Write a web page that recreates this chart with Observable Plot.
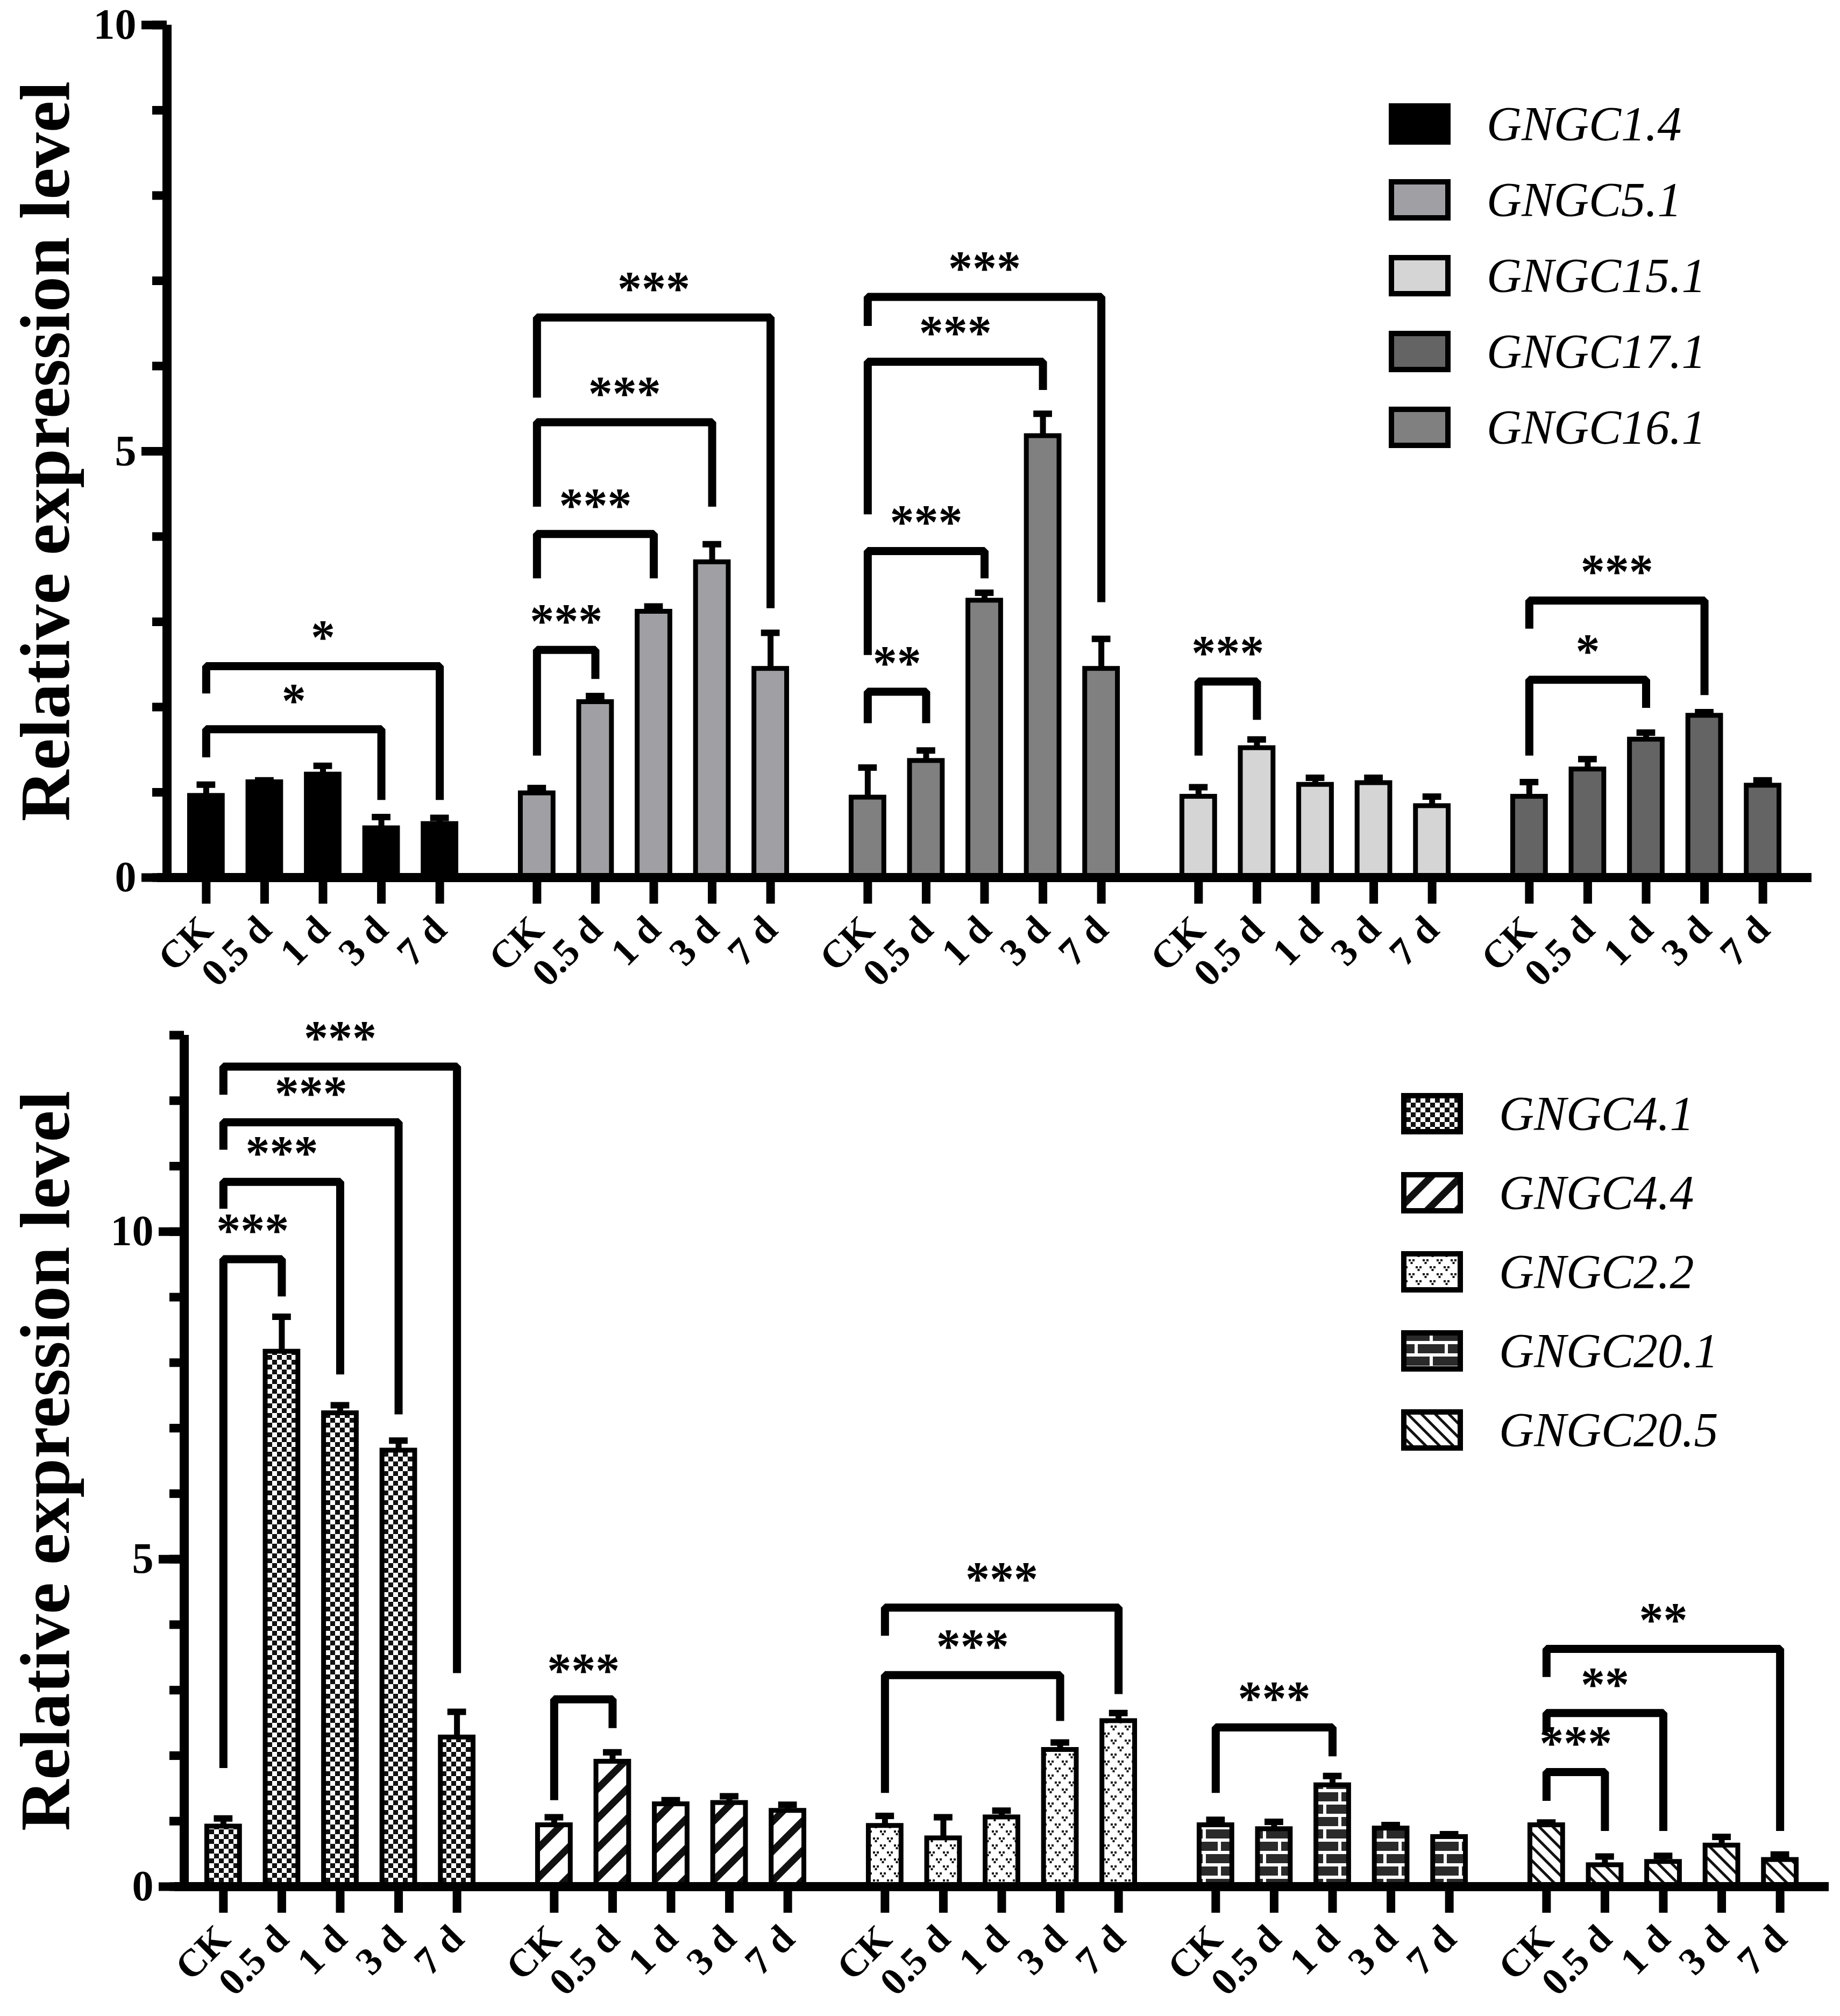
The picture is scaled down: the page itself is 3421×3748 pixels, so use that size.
<!DOCTYPE html>
<html>
<head>
<meta charset="utf-8">
<script src="https://cdn.jsdelivr.net/npm/d3@7"></script>
<script src="https://cdn.jsdelivr.net/npm/@observablehq/plot@0.6"></script>
<style>
  html, body { margin: 0; padding: 0; background: white; overflow: hidden; }
  #page { position: relative; width: 3421px; height: 3748px; }
  .legend { position: absolute; font-family: "Liberation Serif", serif; font-style: italic; font-weight: normal; font-size: 90px; }
  .legend .row { display: flex; align-items: center; }
  .legend svg { margin-right: 67px; }
</style>
</head>
<body>
<svg width="0" height="0" style="position:absolute">
  <defs>
    <pattern id="checker" width="18" height="18" patternUnits="userSpaceOnUse">
      <rect width="18" height="18" fill="white"/>
      <rect width="9" height="9" fill="#111"/>
      <rect x="9" y="9" width="9" height="9" fill="#111"/>
    </pattern>
    <pattern id="stripes" width="39" height="39" patternUnits="userSpaceOnUse" patternTransform="rotate(45)">
      <rect width="39" height="39" fill="white"/>
      <rect width="13" height="39" fill="#111"/>
    </pattern>
    <pattern id="dots" width="26" height="26" patternUnits="userSpaceOnUse">
      <rect width="26" height="26" fill="white"/>
      <rect x="1" y="2" width="4" height="4" fill="#111"/>
      <rect x="8" y="2" width="4" height="4" fill="#111"/>
      <rect x="4.5" y="7" width="4" height="4" fill="#111"/>
      <rect x="14" y="15" width="4" height="4" fill="#111"/>
      <rect x="21" y="15" width="4" height="4" fill="#111"/>
      <rect x="17.5" y="20" width="4" height="4" fill="#111"/>
    </pattern>
    <pattern id="bricks" width="56" height="46" patternUnits="userSpaceOnUse">
      <rect width="56" height="46" fill="white"/>
      <rect x="3" y="3" width="50" height="17" fill="#2a2a2a"/>
      <rect x="-25" y="26" width="50" height="17" fill="#2a2a2a"/>
      <rect x="31" y="26" width="50" height="17" fill="#2a2a2a"/>
    </pattern>
    <pattern id="hatch" width="18" height="18" patternUnits="userSpaceOnUse" patternTransform="rotate(-45)">
      <rect width="18" height="18" fill="white"/>
      <rect width="5" height="18" fill="#111"/>
    </pattern>
  </defs>
</svg>
<div id="page"></div>
<script>
const times = ["CK", "0.5 d", "1 d", "3 d", "7 d"]

// upper panel
const topGenes = ["GNGC1.4", "GNGC5.1", "GNGC16.1", "GNGC15.1", "GNGC17.1"]
const topFills = ["#000000", "#a0a0a4", "#808080", "#d5d5d5", "#646464"]
const topLegend = ["GNGC1.4", "GNGC5.1", "GNGC15.1", "GNGC17.1", "GNGC16.1"]
const topMean = [
  [0.96, 1.12, 1.21, 0.58, 0.63],
  [0.99, 2.06, 3.12, 3.70, 2.45],
  [0.94, 1.37, 3.25, 5.18, 2.45],
  [0.95, 1.52, 1.09, 1.11, 0.84],
  [0.95, 1.27, 1.62, 1.90, 1.08]
]
const topErr = [
  [0.13, 0.02, 0.10, 0.13, 0.07],
  [0.06, 0.07, 0.06, 0.21, 0.42],
  [0.35, 0.12, 0.09, 0.26, 0.35],
  [0.11, 0.10, 0.08, 0.06, 0.11],
  [0.17, 0.12, 0.08, 0.04, 0.06]
]
// gene, compared with, bar height, left leg end, right leg end, label
const topBrackets = [
  ["GNGC1.4", "3 d", 1.74, 1.41, 0.91, "*"],
  ["GNGC1.4", "7 d", 2.48, 2.16, 0.91, "*"],
  ["GNGC5.1", "0.5 d", 2.67, 1.43, 2.33, "***"],
  ["GNGC5.1", "1 d", 4.03, 3.51, 3.51, "***"],
  ["GNGC5.1", "3 d", 5.34, 4.35, 4.35, "***"],
  ["GNGC5.1", "7 d", 6.57, 5.63, 3.16, "***"],
  ["GNGC16.1", "0.5 d", 2.18, 1.81, 1.81, "**"],
  ["GNGC16.1", "1 d", 3.83, 2.61, 3.51, "***"],
  ["GNGC16.1", "3 d", 6.05, 4.26, 5.72, "***"],
  ["GNGC16.1", "7 d", 6.81, 6.47, 3.23, "***"],
  ["GNGC15.1", "0.5 d", 2.30, 1.43, 1.85, "***"],
  ["GNGC17.1", "1 d", 2.32, 1.43, 1.99, "*"],
  ["GNGC17.1", "3 d", 3.25, 2.92, 2.14, "***"]
]

// lower panel
const botGenes = ["GNGC4.1", "GNGC4.4", "GNGC2.2", "GNGC20.1", "GNGC20.5"]
const botFills = ["url(#checker)", "url(#stripes)", "url(#dots)", "url(#bricks)", "url(#hatch)"]
const botMean = [
  [0.92, 8.17, 7.23, 6.66, 2.28],
  [0.94, 1.91, 1.26, 1.28, 1.16],
  [0.93, 0.74, 1.06, 2.09, 2.53],
  [0.94, 0.88, 1.55, 0.89, 0.76],
  [0.94, 0.33, 0.38, 0.63, 0.41]
]
const botErr = [
  [0.12, 0.53, 0.12, 0.15, 0.39],
  [0.12, 0.14, 0.06, 0.10, 0.09],
  [0.15, 0.32, 0.10, 0.11, 0.12],
  [0.08, 0.11, 0.14, 0.05, 0.04],
  [0.04, 0.13, 0.09, 0.13, 0.08]
]
const botBrackets = [
  ["GNGC4.1", "0.5 d", 9.58, 1.81, 9.01, "***"],
  ["GNGC4.1", "1 d", 10.76, 10.35, 7.82, "***"],
  ["GNGC4.1", "3 d", 11.67, 11.25, 7.21, "***"],
  ["GNGC4.1", "7 d", 12.52, 12.09, 3.26, "***"],
  ["GNGC4.4", "0.5 d", 2.86, 1.32, 2.42, "***"],
  ["GNGC2.2", "3 d", 3.23, 1.43, 2.53, "***"],
  ["GNGC2.2", "7 d", 4.26, 3.83, 2.94, "***"],
  ["GNGC20.1", "1 d", 2.43, 1.43, 1.99, "***"],
  ["GNGC20.5", "0.5 d", 1.75, 1.31, 0.85, "***"],
  ["GNGC20.5", "1 d", 2.65, 2.36, 0.85, "**"],
  ["GNGC20.5", "7 d", 3.63, 3.20, 0.85, "**"]
]

function panel({genes, mean, err, brackets, fills, yMax, height, marginLeft, marginRight, marginTop, marginBottom}) {
  const rows = genes.flatMap((gene, g) => times.map((time, t) => ({gene, t, value: mean[g][t], top: mean[g][t] + err[g][t]})))
  const brk = brackets.map(([gene, to, h, hL, hR, label], id) => ({gene, id, t2: times.indexOf(to), h, hL, hR, label}))
  // each bracket is a 4-point path: CK leg, bar, other leg
  const brkPts = brk.flatMap(b => [
    {id: b.id, gene: b.gene, t: 0, y: b.hL},
    {id: b.id, gene: b.gene, t: 0, y: b.h},
    {id: b.id, gene: b.gene, t: b.t2, y: b.h},
    {id: b.id, gene: b.gene, t: b.t2, y: b.hR}
  ])
  const xPad = 0.671
  return Plot.plot({
    width: 3421,
    height, marginLeft, marginRight, marginTop, marginBottom,
    style: {fontFamily: "'Liberation Serif', serif", fontWeight: "bold", background: "white", color: "black"},
    fx: {domain: genes, paddingInner: 0.0568, paddingOuter: 0, axis: null, label: null},
    x: {domain: [-xPad, times.length - 1 + xPad]},
    y: {domain: [0, yMax]},
    color: {domain: genes, range: fills},
    marks: [
      Plot.rect(rows, {fx: "gene", x1: d => d.t - 0.28, x2: d => d.t + 0.28, y1: 0, y2: "value", fill: "gene", stroke: "black", strokeWidth: 9}),
      Plot.ruleX(rows, {fx: "gene", x: "t", y1: "value", y2: "top", strokeWidth: 11}),
      Plot.ruleY(rows, {fx: "gene", y: "top", x1: d => d.t - 0.16, x2: d => d.t + 0.16, strokeWidth: 12}),
      Plot.line(brkPts, {fx: "gene", x: "t", y: "y", z: "id", strokeWidth: 15, strokeLinejoin: "miter", strokeLinecap: "butt"}),
      Plot.text(brk, {fx: "gene", x: d => d.t2 / 2, y: "h", text: "label", dy: -52, fontSize: 90}),
      Plot.ruleY([0], {insetLeft: -18, insetRight: -18, strokeWidth: 17}),
      Plot.ruleX([{gene: genes[0]}], {fx: "gene", x: -xPad, y1: 0, y2: yMax, strokeWidth: 17}),
      Plot.axisY({ticks: d3.range(0, yMax + 1), tickSize: 27, tickFormat: () => "", strokeWidth: 16, label: null}),
      Plot.axisY({ticks: [0, 5, 10], tickSize: 47, tickPadding: 10, fontSize: 80, strokeWidth: 16, label: null}),
      Plot.axisY({ticks: [], label: "Relative expression level", labelArrow: "none", labelAnchor: "center", labelOffset: marginLeft - 32, fontSize: 132}),
      Plot.axisX({ticks: d3.range(times.length), tickFormat: i => times[i], tickRotate: -45, tickSize: 49, tickPadding: 36, fontSize: 72, strokeWidth: 16, label: null})
    ]
  })
}

function legend({names, genes, fills, left, top, pitch}) {
  const box = d3.select("#page").append("div").attr("class", "legend")
    .style("left", left + "px").style("top", top + "px")
  for (const name of names) {
    const row = box.append("div").attr("class", "row").style("height", pitch + "px")
    row.append("svg").attr("width", 115).attr("height", 77)
      .append("rect").attr("x", 5).attr("y", 5).attr("width", 105).attr("height", 67)
      .attr("fill", fills[genes.indexOf(name)]).attr("stroke", "black").attr("stroke-width", 10)
    row.append("span").text(name)
  }
}

const page = d3.select("#page")
page.append(() => panel({
  genes: topGenes, mean: topMean, err: topErr, brackets: topBrackets, fills: topFills,
  yMax: 10, height: 1880, marginLeft: 308, marginRight: 68, marginTop: 46, marginBottom: 249
}))
page.append(() => panel({
  genes: botGenes, mean: botMean, err: botErr, brackets: botBrackets, fills: botFills,
  yMax: 13, height: 1868, marginLeft: 340, marginRight: 36, marginTop: 44, marginBottom: 241
}))
legend({names: topLegend, genes: topGenes, fills: topFills, left: 2582, top: 160, pitch: 141})
legend({names: botGenes, genes: botGenes, fills: botFills, left: 2605, top: 1997, pitch: 147})
</script>
</body>
</html>
